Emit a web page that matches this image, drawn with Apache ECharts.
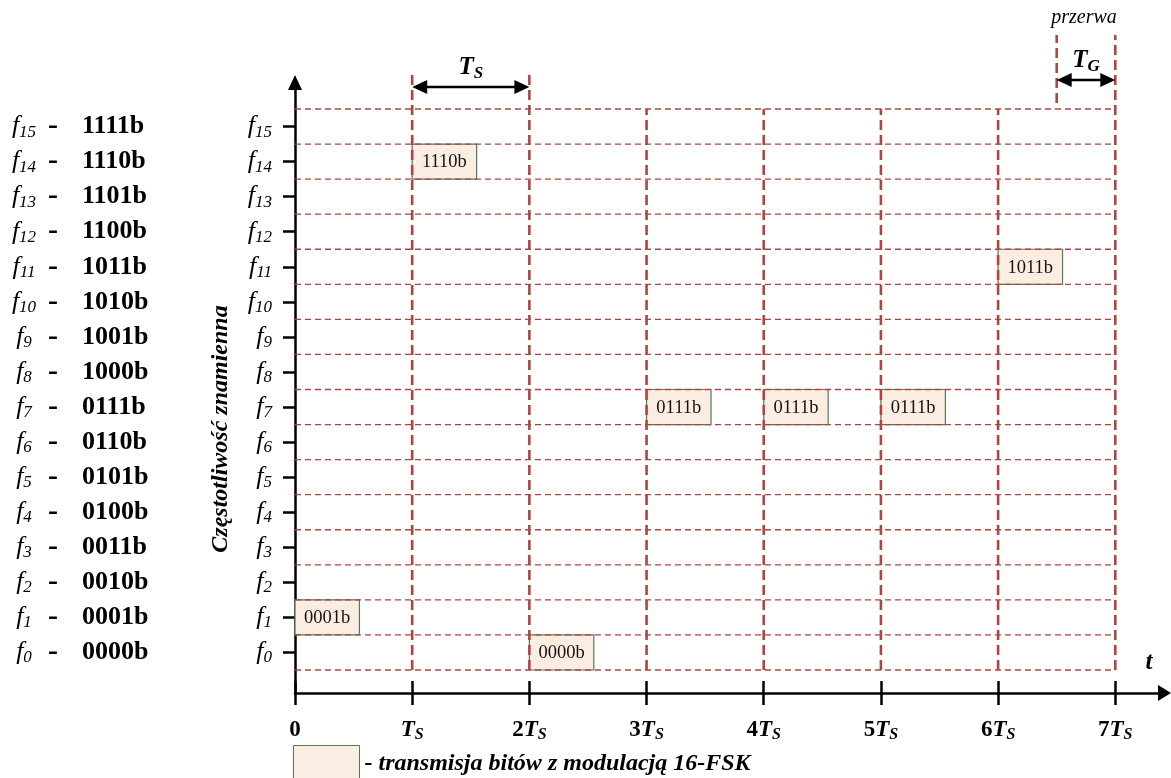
<!DOCTYPE html>
<html>
<head>
<meta charset="utf-8">
<script src="https://cdn.jsdelivr.net/npm/echarts@6/dist/echarts.min.js"></script>
<style>html,body{margin:0;padding:0;background:#fff}#c{width:1171px;height:778px}</style>
</head>
<body>
<div id="c"></div>
<script>
// ---------- DATA ----------
const freqIndex = [0,1,2,3,4,5,6,7,8,9,10,11,12,13,14,15];
const freqCodes = ['0000b','0001b','0010b','0011b','0100b','0101b','0110b','0111b',
                   '1000b','1001b','1010b','1011b','1100b','1101b','1110b','1111b'];
const timeTicks = [0,1,2,3,4,5,6,7];
const timeTickLabels = ['0','T_S','2T_S','3T_S','4T_S','5T_S','6T_S','7T_S'];
// transmitted symbols: start time (in T_S), frequency index, bit label
const symbolStart = [0,1,2,3,4,5,6];
const symbolFreq  = [1,14,0,7,7,7,11];
const symbolCode  = ['0001b','1110b','0000b','0111b','0111b','0111b','1011b'];
// vertical dashed time markers: x (T_S), from level, to level
const markerX    = [1,2,3,4,5,6,7,6.5];
const markerFrom = [-0.5,-0.5,-0.5,-0.5,-0.5,-0.5,-0.5,15.67];
const markerTo   = [16.52,16.52,15.5,15.5,15.5,15.5,17.61,17.61];
// dimension arrows
const dimFrom  = [1,6.5];
const dimTo    = [2,7];
const dimLevel = [16.13,16.33];
const dimLabel = ['T_S','T_G'];
const legendText = '- transmisja bitów z modulacją 16-FSK';
const yTitle = 'Częstotliwość znamienna';

// ---------- STYLE ----------
const FONT = "'Liberation Serif','Times New Roman',serif";
const RED = '#b1443f';
const FILL = '#fcede2';
const EDGE = '#52795a';
const BOX_SPAN = 0.55;

const X_MIN = 0, X_MAX = 7.42, Y_MIN = -1.156, Y_MAX = 16.256;

function tsRich(s){
  const m = s.match(/^(\d*)(T)_(\w)$/);
  if(!m) return '{n|' + s + '}';
  return (m[1] ? '{n|' + m[1] + '}' : '') + '{T|T}{S|' + m[3] + '}';
}
const tsRichStyles = {
  n:{fontFamily:FONT,fontSize:23,fontWeight:'bold',color:'#000',lineHeight:26},
  T:{fontFamily:FONT,fontSize:23,fontWeight:'bold',fontStyle:'italic',color:'#000',lineHeight:26},
  S:{fontFamily:FONT,fontSize:16,fontWeight:'bold',fontStyle:'italic',color:'#000',lineHeight:14,verticalAlign:'bottom'}
};
const fRich = {
  f:{fontFamily:FONT,fontSize:26,fontStyle:'italic',color:'#000',lineHeight:28},
  i:{fontFamily:FONT,fontSize:17,fontStyle:'italic',color:'#000',lineHeight:15,verticalAlign:'bottom'}
};

const horizontalLevels = freqIndex.map(i => i - 0.5).concat([freqIndex.length - 0.5]);

const chart = echarts.init(document.getElementById('c'), null, {renderer:'canvas'});

const baseX = {type:'value', min:X_MIN, max:X_MAX, position:'bottom', splitLine:{show:false}};
const baseY = {type:'value', min:Y_MIN, max:Y_MAX, position:'left', splitLine:{show:false}};

const option = {
  backgroundColor:'#fff',
  animation:false,
  grid:{left:295, right:6.5, top:82.5, bottom:85, containLabel:false, outerBoundsMode:'none'},
  legend:{
    left:293, top:745, padding:0, itemWidth:66, itemHeight:36, selectedMode:false,
    textStyle:{fontFamily:FONT,fontSize:24,fontWeight:'bold',fontStyle:'italic',color:'#000'},
    data:[{name:legendText, icon:'rect', itemStyle:{color:FILL, borderColor:EDGE, borderWidth:1}}]
  },
  xAxis:[
    Object.assign({}, baseX, {
      axisLine:{show:true,onZero:false,symbol:['none','triangle'],symbolSize:[16,13],lineStyle:{color:'#000',width:2.5}},
      axisTick:{show:true,length:12,customValues:timeTicks,lineStyle:{color:'#000',width:2.5}},
      axisLabel:{show:true,customValues:timeTicks,margin:24,
        formatter:v => tsRich(timeTickLabels[timeTicks.indexOf(v)]), rich:tsRichStyles}
    }),
    Object.assign({}, baseX, {
      axisLine:{show:false,onZero:false},
      axisTick:{show:true,inside:true,length:12,customValues:timeTicks,lineStyle:{color:'#000',width:2.5}},
      axisLabel:{show:false}
    })
  ],
  yAxis:[
    Object.assign({}, baseY, {
      axisLine:{show:true,onZero:false,symbol:['none','triangle'],symbolSize:[14,15],lineStyle:{color:'#000',width:2.5}},
      axisTick:{show:true,length:12,customValues:freqIndex,lineStyle:{color:'#000',width:2.5}},
      axisLabel:{show:true,customValues:freqIndex,margin:23,align:'right',
        formatter:v => '{f|f}{i|' + v + '}', rich:fRich}
    }),
    Object.assign({}, baseY, {
      offset:271,
      axisLine:{show:false,onZero:false}, axisTick:{show:false},
      axisLabel:{show:true,customValues:freqIndex,margin:0,align:'center',
        formatter:v => '{f|f}{i|' + v + '}', rich:fRich}
    }),
    Object.assign({}, baseY, {
      offset:247,
      axisLine:{show:false,onZero:false}, axisTick:{show:false},
      axisLabel:{show:true,customValues:freqIndex,margin:0,align:'left',
        formatter:v => '{d|-}{c|' + freqCodes[v] + '}',
        rich:{
          d:{fontFamily:FONT,fontSize:30,fontWeight:'bold',color:'#000',width:34},
          c:{fontFamily:FONT,fontSize:26,fontWeight:'bold',color:'#000'}
        }}
    })
  ],
  graphic:[
    {type:'text', x:221, y:429, rotation:Math.PI/2,
      style:{text:yTitle, font:"italic bold 24px " + FONT, fill:'#000', align:'center', verticalAlign:'middle'}},
    {type:'text', x:1084, y:18,
      style:{text:'przerwa', font:"italic 20px " + FONT, fill:'#000', align:'center', verticalAlign:'middle'}},
    {type:'text', x:1149, y:663,
      style:{text:'t', font:"italic bold 25px " + FONT, fill:'#000', align:'center', verticalAlign:'middle'}}
  ],
  series:[
    {
      name:legendText, type:'custom', xAxisIndex:0, yAxisIndex:0, z:2, clip:false,
      itemStyle:{color:FILL, borderColor:EDGE},
      data:symbolStart.map((s,i) => [s, symbolFreq[i]]),
      renderItem:function(params, api){
        const x = api.value(0), f = api.value(1);
        const p0 = api.coord([x, f + 0.5]);
        const p1 = api.coord([x + BOX_SPAN, f - 0.5]);
        return {type:'group', children:[
          {type:'rect', shape:{x:p0[0], y:p0[1], width:p1[0]-p0[0], height:p1[1]-p0[1]},
            style:{fill:FILL, stroke:EDGE, lineWidth:1.2}},
          {type:'text', x:(p0[0]+p1[0])/2, y:(p0[1]+p1[1])/2 + 1,
            style:{text:symbolCode[params.dataIndex], font:"18.5px " + FONT, fill:'#111', align:'center', verticalAlign:'middle'}}
        ]};
      }
    },
    {
      name:'rows', type:'custom', xAxisIndex:0, yAxisIndex:0, z:3, clip:false, silent:true,
      data:horizontalLevels.map(y => [y, 0, 7]),
      renderItem:function(params, api){
        const a = api.coord([api.value(1), api.value(0)]);
        const b = api.coord([api.value(2), api.value(0)]);
        return {type:'line', shape:{x1:a[0], y1:a[1], x2:b[0], y2:b[1]},
          style:{stroke:RED, lineWidth:1.3, lineDash:[6,4]}};
      }
    },
    {
      name:'markers', type:'custom', xAxisIndex:0, yAxisIndex:0, z:4, clip:false, silent:true,
      data:markerX.map((x,i) => [x, markerFrom[i], markerTo[i]]),
      renderItem:function(params, api){
        const a = api.coord([api.value(0), api.value(1)]);
        const b = api.coord([api.value(0), api.value(2)]);
        return {type:'line', shape:{x1:a[0], y1:a[1], x2:b[0], y2:b[1]},
          style:{stroke:RED, lineWidth:2.6, lineDash:[10,5]}};
      }
    },
    {
      name:'dims', type:'custom', xAxisIndex:0, yAxisIndex:0, z:5, clip:false, silent:true,
      data:dimFrom.map((x,i) => [x, dimTo[i], dimLevel[i]]),
      renderItem:function(params, api){
        const a = api.coord([api.value(0), api.value(2)]);
        const b = api.coord([api.value(1), api.value(2)]);
        const L = 15, W = 7;
        const lab = dimLabel[params.dataIndex].split('_');
        return {type:'group', children:[
          {type:'line', shape:{x1:a[0]+L-2, y1:a[1], x2:b[0]-L+2, y2:b[1]}, style:{stroke:'#000', lineWidth:2.5}},
          {type:'polygon', shape:{points:[[a[0],a[1]],[a[0]+L,a[1]-W],[a[0]+L,a[1]+W]]}, style:{fill:'#000'}},
          {type:'polygon', shape:{points:[[b[0],b[1]],[b[0]-L,b[1]-W],[b[0]-L,b[1]+W]]}, style:{fill:'#000'}},
          {type:'text', x:(a[0]+b[0])/2, y:a[1]-19,
            style:{text:'{T|' + lab[0] + '}{S|' + lab[1] + '}', align:'center', verticalAlign:'middle',
              rich:{
                T:{fontFamily:FONT,fontSize:25,fontWeight:'bold',fontStyle:'italic',fill:'#000',lineHeight:28},
                S:{fontFamily:FONT,fontSize:17,fontWeight:'bold',fontStyle:'italic',fill:'#000',lineHeight:15,verticalAlign:'bottom'}
              }}}
        ]};
      }
    }
  ]
};
chart.setOption(option);
</script>
</body>
</html>
